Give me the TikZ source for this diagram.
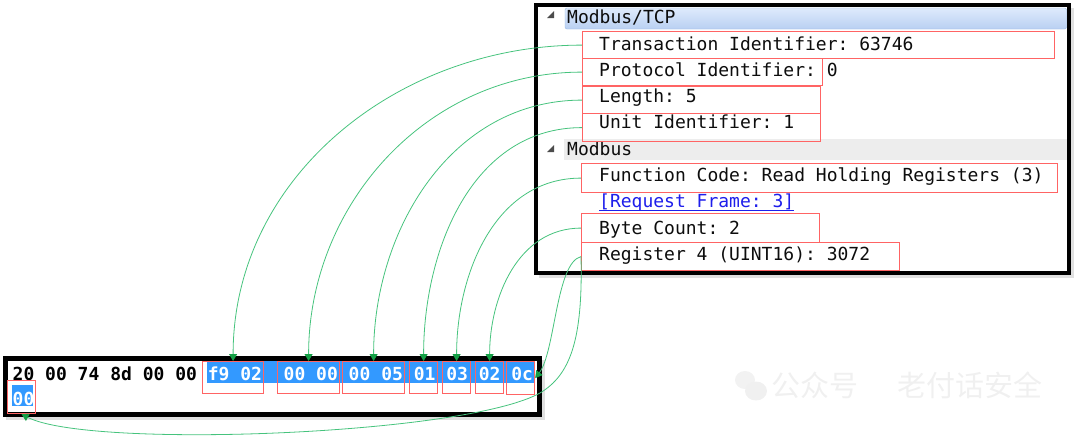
\documentclass[tikz,border=0pt]{standalone}
\usepackage{fontspec}
\setmonofont{DejaVu Sans Mono}
\newfontfamily\cjk{Noto Sans CJK SC}
\usepackage{xcolor}
\usetikzlibrary{arrows.meta}

\definecolor{boxred}{RGB}{255,100,100}
\definecolor{selblue}{RGB}{51,153,255}
\definecolor{linkgreen}{RGB}{70,195,125}
\definecolor{tipgreen}{RGB}{20,160,70}
\definecolor{hdrtop}{RGB}{222,234,252}
\definecolor{hdrbot}{RGB}{185,208,242}
\definecolor{hdrline}{RGB}{150,185,230}
\definecolor{linkblue}{RGB}{30,30,235}

\tikzset{
  fld/.style={draw=boxred, line width=1.2pt, inner sep=0pt, anchor=north west},
  txt/.style={inner sep=0pt, anchor=base west, text=black!95, font=\ttfamily\fontsize{18}{20}\selectfont},
  hex/.style={inner sep=0pt, anchor=base west, font=\ttfamily\bfseries\fontsize{18}{20}\selectfont},
  link/.style={draw=linkgreen, line width=0.8pt, -{Triangle[width=8pt,length=7pt,color=tipgreen]}},
  wmark/.style={inner sep=0pt, anchor=west, text=black!6, font=\cjk\fontsize{29}{30}\selectfont}
}

\begin{document}
\begin{tikzpicture}[x=1pt,y=1pt]
	\useasboundingbox (0,0) rectangle (1080,-437);

	% protocol tree
	\fill[black!12] (539,-8) rectangle (1074,-278);
	\draw[line width=4.5pt, fill=white] (536,-5) rectangle (1069,-273);
	\draw[draw=hdrline, top color=hdrtop, bottom color=hdrbot, rounded corners=2pt] (565,-8) rectangle (1066.5,-29);
	\fill[black!7] (564,-139) rectangle (1066.5,-160);
	\fill[black!70] (547,-18) -- (554,-18) -- (554,-11) -- cycle;
	\fill[black!70] (547,-152) -- (554,-152) -- (554,-145) -- cycle;

	\node[txt] (h1) at (567,-23.7) {Modbus/TCP};
	\node[txt] (t1) at (599,-50) {Transaction Identifier: 63746};
	\node[txt] (t2) at (599,-76.3) {Protocol Identifier: 0};
	\node[txt] (t3) at (599,-102.6) {Length: 5};
	\node[txt] (t4) at (599,-128.9) {Unit Identifier: 1};
	\node[txt] (h2) at (567,-155.2) {Modbus};
	\node[txt] (t5) at (599,-181.5) {Function Code: Read Holding Registers (3)};
	\node[txt, text=linkblue] (t6) at (599,-207.8) {[Request Frame: 3]};
	\draw[linkblue, line width=0.8pt] (t6.base west) ++(0,-2.5) -- ++(195,0);
	\node[txt] (t7) at (599,-234.1) {Byte Count: 2};
	\node[txt] (t8) at (599,-260.4) {Register 4 (UINT16): 3072};

	\node[fld, minimum width=472pt, minimum height=27pt] (tid) at (582,-31) {};
	\node[fld, minimum width=240pt, minimum height=27pt] (pid) at (582,-58) {};
	\node[fld, minimum width=238pt, minimum height=27pt] (len) at (582,-86) {};
	\node[fld, minimum width=238pt, minimum height=28pt] (uid) at (582,-113) {};
	\node[fld, minimum width=476pt, minimum height=29pt] (fc) at (581,-163) {};
	\node[fld, minimum width=238pt, minimum height=29pt] (bc) at (581,-213) {};
	\node[fld, minimum width=318pt, minimum height=28pt] (reg) at (581,-242) {};

	% hex bytes
	\fill[black!12] (6,-360) rectangle (545,-420);
	\draw[line width=4.5pt, fill=white] (5.5,-358.5) rectangle (539.5,-414.5);
	\fill[selblue] (207,-361) rectangle (535,-383);
	\fill[selblue] (12,-385) rectangle (33,-406);
	\foreach \byte/\col in {20/0,00/3,74/6,8d/9,00/12,00/15}
		\node[hex] (x\col) at ({12.5+10.84*\col},-380) {\byte};
	\foreach \byte/\col in {f9/18,02/21,00/25,00/28,00/31,05/34,01/37,03/40,02/43,0c/46}
		\node[hex, text=white] (x\col) at ({12.5+10.84*\col},-380) {\byte};
	\node[hex, text=white] (y0) at (12.5,-405) {00};

	\node[fld, minimum width=61pt, minimum height=32pt] (b1) at (202,-361) {};
	\node[fld, minimum width=62pt, minimum height=32pt] (b2) at (277,-361) {};
	\node[fld, minimum width=62pt, minimum height=32pt] (b3) at (342,-361) {};
	\node[fld, minimum width=28pt, minimum height=32pt] (b4) at (409,-361) {};
	\node[fld, minimum width=28pt, minimum height=32pt] (b5) at (442,-361) {};
	\node[fld, minimum width=28pt, minimum height=32pt] (b6) at (475,-361) {};
	\node[fld, minimum width=28pt, minimum height=33pt] (b7) at (506,-361) {};
	\node[fld, minimum width=28pt, minimum height=33pt] (b8) at (7,-380) {};

	% watermark
	\fill[black!5] (745,-380) ellipse (10 and 9);
	\fill[black!6] (756,-391) ellipse (11 and 9.5);
	\node[wmark] (wm1) at (771,-385) {公众号};
	\node[wmark] (wm2) at (897,-385) {老付话安全};

	% links
	\coordinate (bend) at (540,-393);
	\draw[link] (tid.west) to[out=180,in=90] (b1.north);
	\draw[link] (pid.west) to[out=180,in=90] (b2.north);
	\draw[link] (len.west) to[out=180,in=90] (b3.north);
	\draw[link] (uid.west) to[out=180,in=90] (b4.north);
	\draw[link] (fc.west) to[out=180,in=90] (b5.north);
	\draw[link] (bc.west) to[out=180,in=90] (b6.north);
	\draw[link] (reg.west) .. controls +(-25,-6) and +(20,26) .. (b7.east);
	\draw[link] (reg.west) .. controls +(2,-84) and +(30,18) .. (bend)
		.. controls +(-75,-42) and +(68,-35) .. (b8.south);
\end{tikzpicture}
\end{document}
